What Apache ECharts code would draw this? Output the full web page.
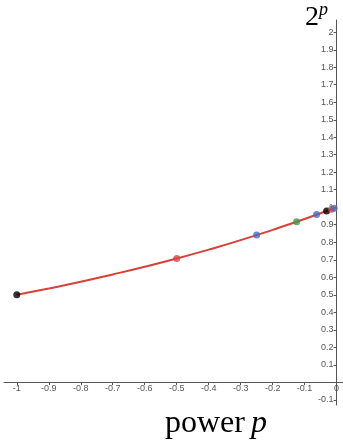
<!DOCTYPE html>
<html>
<head>
<meta charset="utf-8">
<script src="https://cdn.jsdelivr.net/npm/echarts@6/dist/echarts.min.js"></script>
<style>html,body{margin:0;padding:0;background:#fff;}#c{width:343px;height:442px;}</style>
</head>
<body>
<div id="c"></div>
<script>
// curve values of 2^p
var curveP = [-1, -0.9, -0.8, -0.7, -0.6, -0.5, -0.4, -0.3, -0.2, -0.1, 0];
var curveV = [0.5, 0.536, 0.574, 0.616, 0.660, 0.707, 0.758, 0.812, 0.871, 0.933, 1.0];
// highlighted points
var pointP = [-1, -0.5, -0.25, -0.125, -0.0625, -0.03125, -0.015625, -0.0078125];
var pointV = [0.5, 0.707, 0.841, 0.917, 0.958, 0.979, 0.989, 0.995];
var pointColors = ['#000000', '#d24a45', '#4a6cc0', '#3e9a4a', '#4a6cc0', '#000000', '#d24a45', '#4a6cc0'];
// tick positions and labels
var xTicks = [-1, -0.9, -0.8, -0.7, -0.6, -0.5, -0.4, -0.3, -0.2, -0.1, 0];
var yTicks = [-0.1, 0, 0.1, 0.2, 0.3, 0.4, 0.5, 0.6, 0.7, 0.8, 0.9, 1, 1.1, 1.2, 1.3, 1.4, 1.5, 1.6, 1.7, 1.8, 1.9, 2];
var yLabels = [-0.1, 0.1, 0.2, 0.3, 0.4, 0.5, 0.6, 0.7, 0.8, 0.9, 1, 1.1, 1.2, 1.3, 1.4, 1.5, 1.6, 1.7, 1.8, 1.9, 2];

var X_MIN = -1.04, X_MAX = 0.02, Y_MIN = -0.13, Y_MAX = 2.07;
var G_LEFT = 4, G_RIGHT = 0, G_TOP = 20, G_BOTTOM = 37;
var W = 343, H = 442;
var gw = W - G_LEFT - G_RIGHT, gh = H - G_TOP - G_BOTTOM;
// offsets so axes cross at (0,0)
var xOff = -gh * (0 - Y_MIN) / (Y_MAX - Y_MIN);
var yOff = -gw * (0 - X_MIN) / (X_MAX - X_MIN);

var chart = echarts.init(document.getElementById('c'));
var axisColor = '#555';
var curveData = curveP.map(function (p, i) { return [p, curveV[i]]; });
var pointData = pointP.map(function (p, i) {
  return { value: [p, pointV[i]], itemStyle: { color: pointColors[i] } };
});
function fmt(v) { return String(Math.round(v * 10) / 10); }
chart.setOption({
  animation: false,
  grid: { left: G_LEFT, right: G_RIGHT, top: G_TOP, bottom: G_BOTTOM },
  xAxis: {
    type: 'value', min: X_MIN, max: X_MAX, position: 'bottom', offset: xOff,
    axisLine: { onZero: false, lineStyle: { color: axisColor, width: 1 } },
    axisTick: { show: true, length: 3, customValues: xTicks, lineStyle: { color: axisColor } },
    axisLabel: { customValues: xTicks, color: '#555', fontSize: 9, fontFamily: 'Liberation Sans', margin: 2,
      formatter: fmt },
    splitLine: { show: false }
  },
  yAxis: {
    type: 'value', min: Y_MIN, max: Y_MAX, position: 'left', offset: yOff,
    axisLine: { onZero: false, show: true, lineStyle: { color: axisColor, width: 1 } },
    axisTick: { show: true, length: 3, customValues: yTicks, lineStyle: { color: axisColor } },
    axisLabel: { customValues: yLabels, color: '#555', fontSize: 9, fontFamily: 'Liberation Sans', margin: 3,
      formatter: fmt },
    splitLine: { show: false }
  },
  graphic: [
    { type: 'text', left: 305, top: 4, style: { text: '2', font: '28px "Liberation Serif"', fill: '#000' } },
    { type: 'text', left: 319, top: 1, style: { text: 'p', font: 'italic 18px "Liberation Serif"', fill: '#000' } },
    { type: 'text', left: 165, top: 408, style: { text: 'power ', font: '32px "Liberation Serif"', fill: '#000' } },
    { type: 'text', left: 251, top: 408, style: { text: 'p', font: 'italic 32px "Liberation Serif"', fill: '#000' } }
  ],
  series: [
    { type: 'line', data: curveData, smooth: true, showSymbol: false,
      lineStyle: { color: '#d8413b', width: 2 }, z: 2 },
    { type: 'scatter', data: pointData, symbolSize: 7, z: 3 }
  ]
});
</script>
</body>
</html>
